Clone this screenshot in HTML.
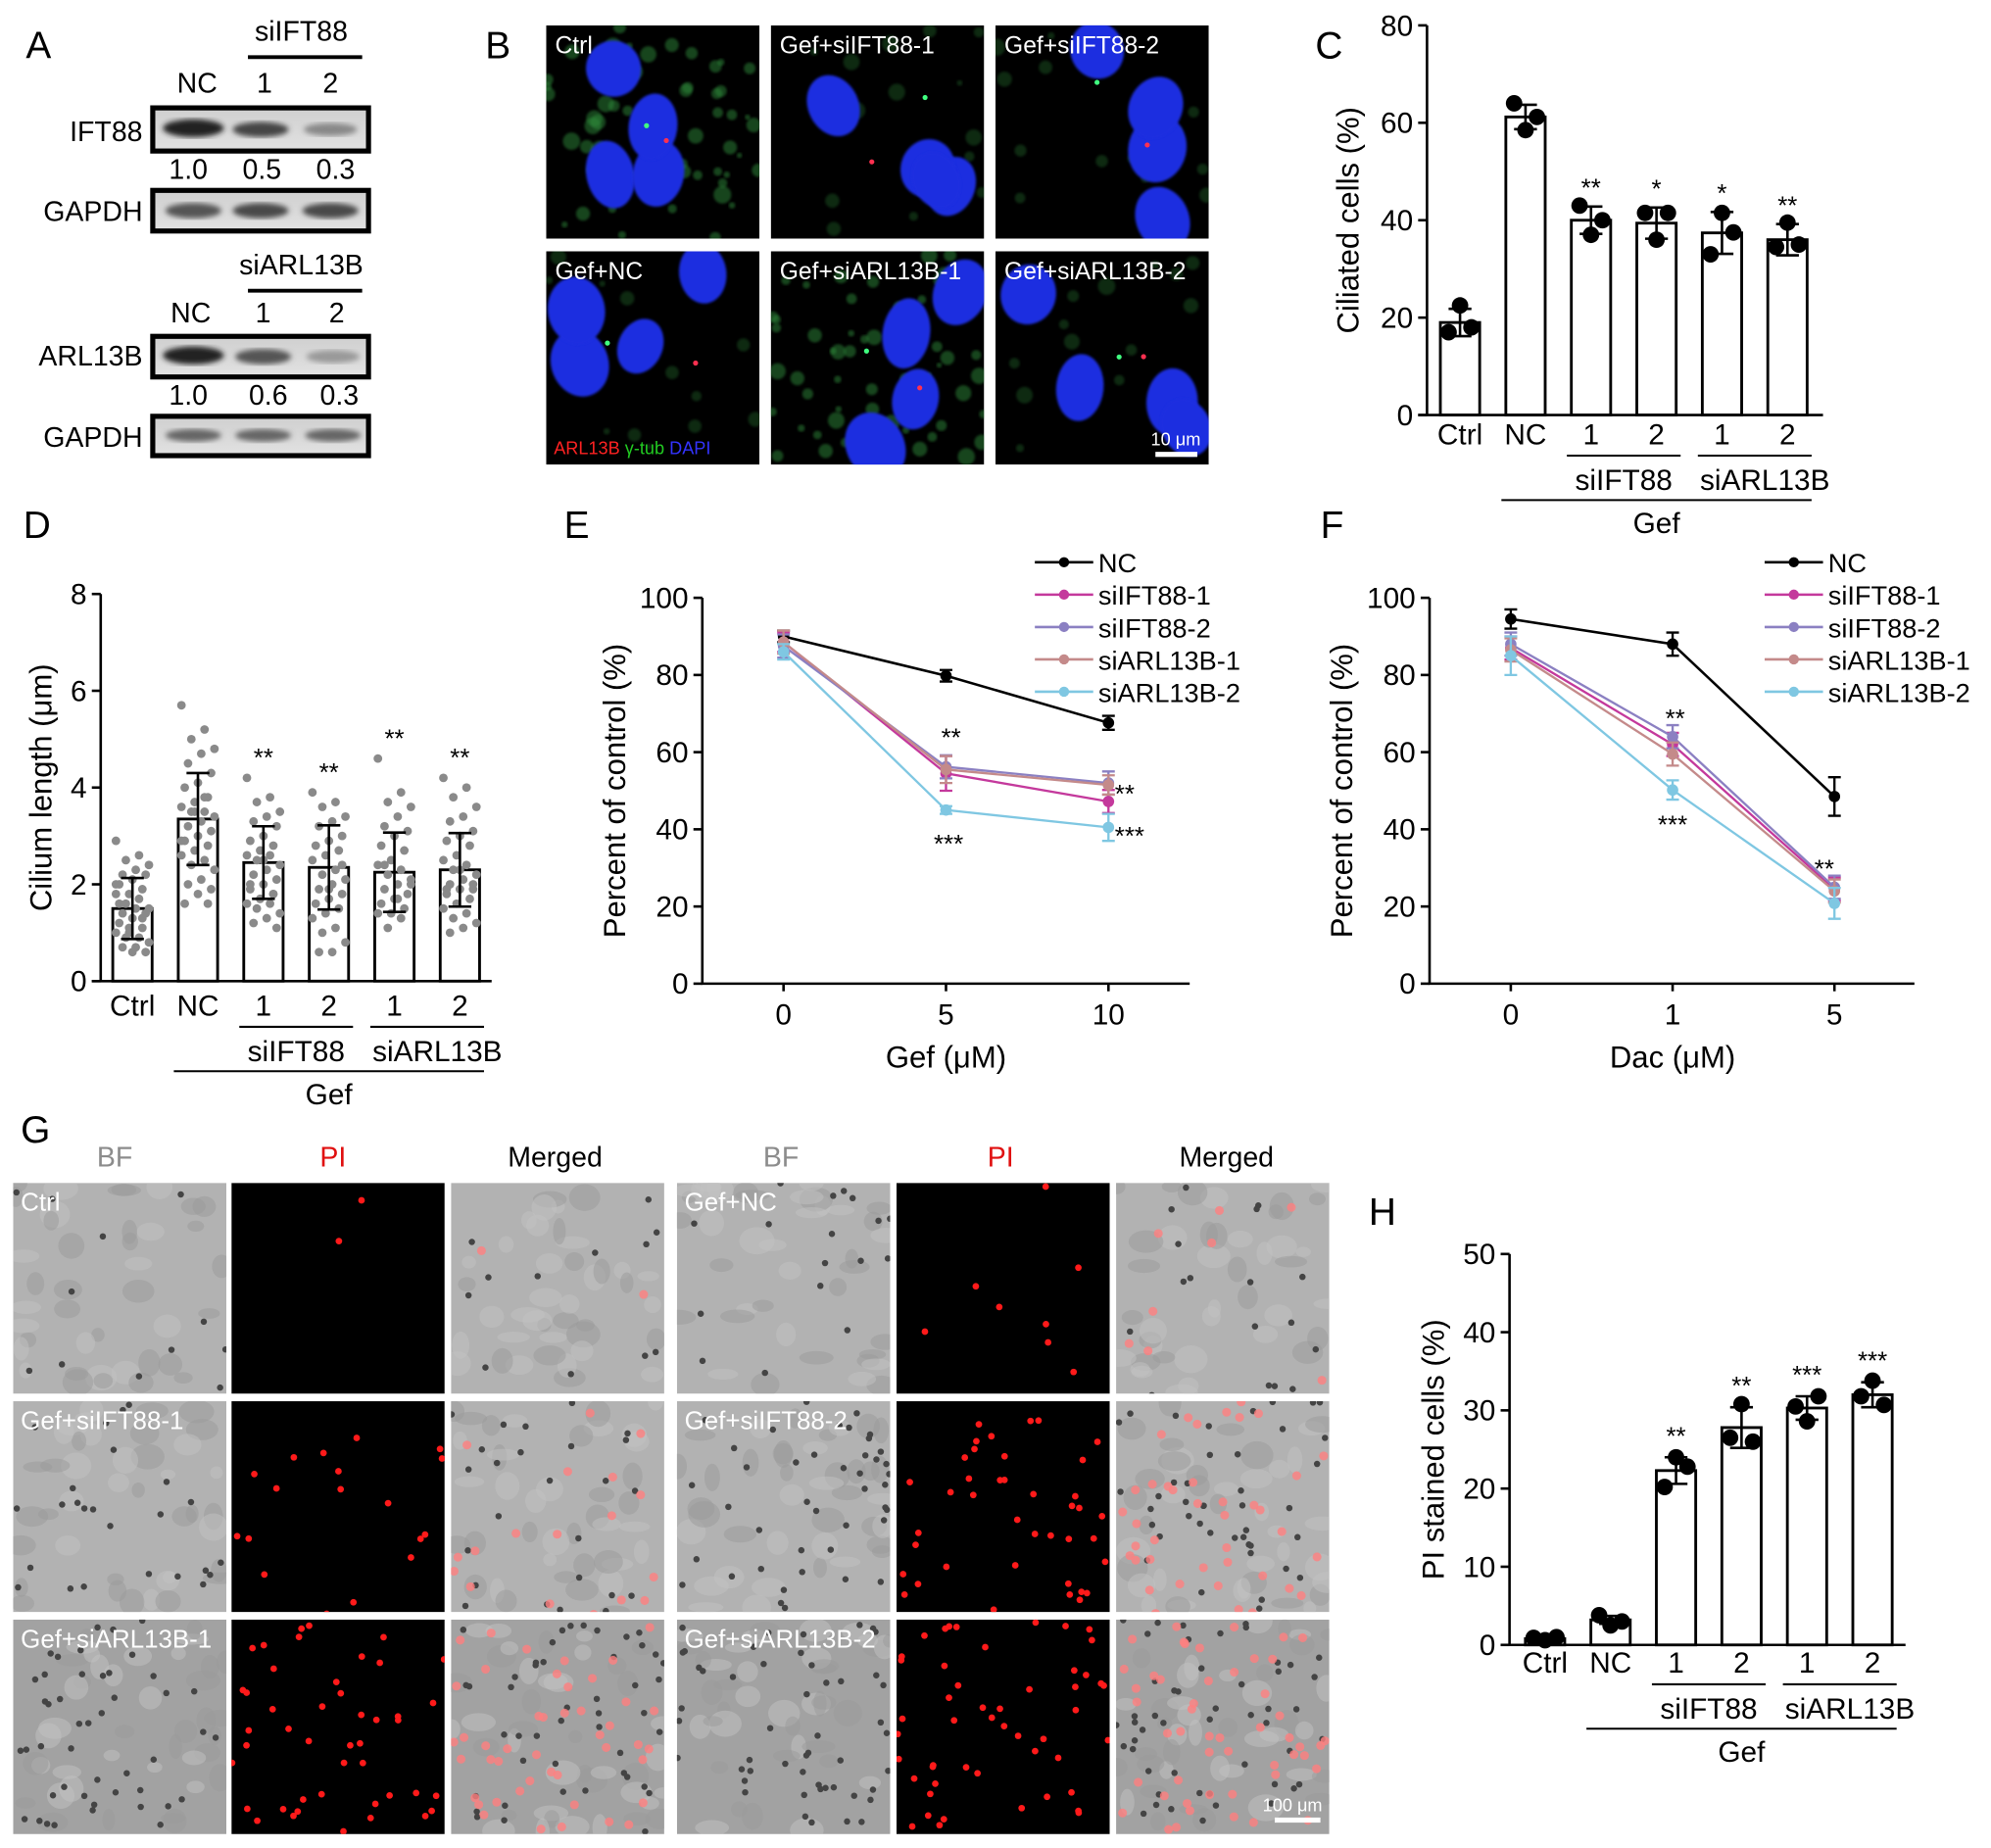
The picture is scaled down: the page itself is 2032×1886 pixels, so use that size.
<!DOCTYPE html>
<html><head><meta charset="utf-8"><style>
html,body{margin:0;padding:0;background:#fff;}
svg{display:block;}
</style></head><body>
<svg id="fig" xmlns="http://www.w3.org/2000/svg" width="2032" height="1886" viewBox="0 0 1568 1456" font-family="Liberation Sans, Arial, sans-serif">
<defs>
<linearGradient id="blotg" x1="0" y1="0" x2="0" y2="1"><stop offset="0" stop-color="#cfcfcf"/><stop offset="1" stop-color="#e2e2e2"/></linearGradient>
<filter id="blur2"><feGaussianBlur stdDeviation="2"/></filter>
<filter id="blur1"><feGaussianBlur stdDeviation="1"/></filter>
<filter id="blur6"><feGaussianBlur stdDeviation="6"/></filter>
</defs>
<rect width="1568" height="1456" fill="#fff"/>
<g font-size="30">
<text x="20" y="46">A</text>
<text x="382" y="46">B</text>
<text x="1036" y="46">C</text>
<text x="18" y="424">D</text>
<text x="444" y="424">E</text>
<text x="1040" y="424">F</text>
<text x="16" y="900">G</text>
<text x="1078" y="965">H</text>
</g>
<g id="panelA" font-size="22">
<text x="237" y="32" text-anchor="middle">siIFT88</text>
<line x1="195" y1="45" x2="285" y2="45" stroke="#000" stroke-width="3"/>
<text x="155" y="73" text-anchor="middle">NC</text><text x="208" y="73" text-anchor="middle">1</text><text x="260" y="73" text-anchor="middle">2</text>
<text x="112" y="111" text-anchor="end">IFT88</text>
<rect x="120" y="85" width="170" height="34" fill="url(#blotg)" stroke="#000" stroke-width="4"/>
<ellipse cx="152" cy="101" rx="24" ry="7" fill="#222" filter="url(#blur2)"/><ellipse cx="205" cy="102" rx="22" ry="6" fill="#444" filter="url(#blur2)"/><ellipse cx="260" cy="102" rx="21" ry="5" fill="#888" filter="url(#blur2)"/>
<text x="148" y="141" text-anchor="middle">1.0</text><text x="206" y="141" text-anchor="middle">0.5</text><text x="264" y="141" text-anchor="middle">0.3</text>
<text x="112" y="174" text-anchor="end">GAPDH</text>
<rect x="120" y="150" width="170" height="32" fill="url(#blotg)" stroke="#000" stroke-width="4"/>
<ellipse cx="152" cy="166" rx="22" ry="6" fill="#555" filter="url(#blur2)"/><ellipse cx="205" cy="166" rx="22" ry="6" fill="#4a4a4a" filter="url(#blur2)"/><ellipse cx="260" cy="166" rx="22" ry="6" fill="#4a4a4a" filter="url(#blur2)"/>
<text x="237" y="216" text-anchor="middle">siARL13B</text>
<line x1="195" y1="229" x2="285" y2="229" stroke="#000" stroke-width="3"/>
<text x="150" y="254" text-anchor="middle">NC</text><text x="207" y="254" text-anchor="middle">1</text><text x="265" y="254" text-anchor="middle">2</text>
<text x="112" y="288" text-anchor="end">ARL13B</text>
<rect x="120" y="265" width="170" height="32" fill="url(#blotg)" stroke="#000" stroke-width="4"/>
<ellipse cx="152" cy="280" rx="24" ry="7" fill="#222" filter="url(#blur2)"/><ellipse cx="207" cy="281" rx="22" ry="6" fill="#555" filter="url(#blur2)"/><ellipse cx="262" cy="281" rx="21" ry="5" fill="#999" filter="url(#blur2)"/>
<text x="148" y="319" text-anchor="middle">1.0</text><text x="211" y="319" text-anchor="middle">0.6</text><text x="267" y="319" text-anchor="middle">0.3</text>
<text x="112" y="352" text-anchor="end">GAPDH</text>
<rect x="120" y="328" width="170" height="31" fill="url(#blotg)" stroke="#000" stroke-width="4"/>
<ellipse cx="152" cy="343" rx="22" ry="5" fill="#666" filter="url(#blur2)"/><ellipse cx="207" cy="343" rx="22" ry="5" fill="#666" filter="url(#blur2)"/><ellipse cx="262" cy="343" rx="22" ry="5" fill="#666" filter="url(#blur2)"/>
</g>
<g id="panelB"></g>
<g id="panelG">
<g font-size="22" text-anchor="middle">
<text x="90" y="919" fill="#8c8c8c">BF</text><text x="262" y="919" fill="#e01010">PI</text><text x="437" y="919">Merged</text>
<text x="615" y="919" fill="#8c8c8c">BF</text><text x="788" y="919" fill="#e01010">PI</text><text x="966" y="919">Merged</text>
</g>
</g>
<g id="charts"></g>
</svg>
<script>
// ---------- Data ----------
const barCats = ["Ctrl","NC","1","2","1","2"];
const cValues = [19, 61.2, 40, 39.4, 37.4, 36];
const cSD = [2.8, 2.5, 2.8, 3.2, 4.3, 3.2];
const cPoints = [[17,22.5,18],[64,58.5,61.2],[43,37,40],[41.5,36,41.5],[33,41.5,37.5],[34.5,39.5,35]];
const cStars = ["","","**","*","*","**"];
const cTicks = [0,20,40,60,80];

const dValues = [1.5, 3.35, 2.45, 2.35, 2.25, 2.3];
const dSD = [0.63, 0.95, 0.75, 0.87, 0.82, 0.76];
const dStars = ["","","**","**","**","**"];
const dTicks = [0,2,4,6,8];
const dDots0 = [2.9,2.6,2.5,2.4,2.3,2.2,2.2,2.1,2.0,1.9,1.8,1.8,1.7,1.6,1.5,1.5,1.4,1.4,1.3,1.2,1.1,1.1,1.0,0.9,0.9,0.8,0.7,0.7,0.6,0.6,1.6,1.3,1.0,2.0];
const dDots1 = [5.7,5.2,5.0,4.8,4.7,4.5,4.3,4.1,4.0,3.8,3.7,3.6,3.5,3.5,3.4,3.3,3.2,3.1,3.0,2.9,2.8,2.7,2.6,2.5,2.4,2.3,2.1,2.0,1.9,1.8,1.6,1.6,3.5,2.9,3.8];
const dDots2 = [4.2,3.8,3.7,3.5,3.4,3.3,3.2,3.0,2.9,2.8,2.7,2.6,2.6,2.5,2.4,2.3,2.2,2.1,2.0,1.9,1.8,1.7,1.6,1.6,1.5,1.4,1.3,1.2,1.1,2.5,2.0,1.8];
const dDots3 = [3.9,3.7,3.6,3.4,3.3,3.2,3.0,2.9,2.8,2.7,2.6,2.5,2.3,2.2,2.1,2.0,1.9,1.8,1.7,1.6,1.5,1.4,1.3,1.1,1.0,0.8,0.6,0.6,2.4,1.9];
const dDots4 = [4.6,3.9,3.7,3.6,3.4,3.2,3.1,3.0,2.8,2.7,2.5,2.4,2.3,2.2,2.1,2.0,1.9,1.8,1.7,1.6,1.5,1.4,1.4,1.3,1.1,2.0,1.7,2.4];
const dDots5 = [4.2,4.0,3.8,3.6,3.4,3.3,3.1,3.0,2.9,2.8,2.6,2.5,2.4,2.3,2.2,2.1,2.0,1.9,1.9,1.8,1.7,1.6,1.5,1.4,1.3,1.2,1.1,1.0,2.0,2.3,1.9];
const dDots = [dDots0,dDots1,dDots2,dDots3,dDots4,dDots5];

const hValues = [0.8, 3.2, 22.3, 27.8, 30.3, 32];
const hSD = [0.3, 0.5, 1.7, 2.6, 1.5, 1.6];
const hPoints = [[0.9,0.6,1.0],[3.8,2.5,3.0],[20.2,24,22.8],[26.5,30.8,26],[30.5,28.6,31.8],[31.8,33.8,30.7]];
const hStars = ["","","**","**","***","***"];
const hTicks = [0,10,20,30,40,50];

const seriesNames = ["NC","siIFT88-1","siIFT88-2","siARL13B-1","siARL13B-2"];
const seriesColors = ["#000000","#c4399c","#8b80c2","#c48a8a","#7fc7e2"];
const eCats = ["0","5","10"];
const eNC = [90, 79.8, 67.6];
const eIFT1 = [88.5, 54.5, 47.2];
const eIFT2 = [87.5, 56.2, 52];
const eARL1 = [88.5, 55.5, 51.5];
const eARL2 = [86, 45, 40.5];
const eErr = [[1.5,1.5,1.8],[2.5,4.5,3],[3,3,3],[3,3.5,2.5],[2,1,3.5]];
const fCats = ["0","1","5"];
const fNC = [94.5, 88, 48.5];
const fIFT1 = [87, 62, 24.5];
const fIFT2 = [88, 64, 25];
const fARL1 = [86.5, 59.5, 24];
const fARL2 = [85, 50.2, 20.8];
const fErr = [[2.5,3,5],[3,3,3],[3,3,3],[3,3,3],[5,2.5,4]];
const lineTicks = [0,20,40,60,80,100];

// ---------- helpers ----------
const NS='http://www.w3.org/2000/svg';
const root=document.getElementById('charts');
function mk(tag, attrs, parent){const e=document.createElementNS(NS,tag);for(const k in attrs)e.setAttribute(k,attrs[k]);(parent||root).appendChild(e);return e;}
function tx(x,y,s,size,anchor,fill,parent){const e=mk('text',{x:x,y:y,'font-size':size,'text-anchor':anchor||'middle',fill:fill||'#000'},parent);e.textContent=s;return e;}

// ---------- Bar chart ----------
function barChart(o){
  const g=mk('g',{});
  
  
  const y=v=>o.y0-(v-0)*(o.y0-o.yTop)/o.vmax;
  const cx=i=>o.c0+i*o.step;
  o.values.forEach((v,i)=>{
    const r=mk('rect',{x:cx(i)-o.bw/2,y:y(v),width:o.bw,height:o.y0-y(v),fill:'#fff',stroke:'#000','stroke-width':2.2},g);
    
    
  });
  if(o.dots){o.dots.forEach((arr,i)=>{arr.forEach((v,j)=>{
    const off=((j*7)%11-5)*2.6;
    const c=mk('circle',{cx:cx(i)+off,cy:y(v),r:3.4,fill:'#8a8a8a'},g);
    
    
  });});}
  if(o.points){o.points.forEach((arr,i)=>{arr.forEach((v,j)=>{
    const c=mk('circle',{cx:cx(i)+(j-1)*9,cy:y(v),r:6.5,fill:'#000'},g);
    
    
  });});}
  o.values.forEach((v,i)=>{
    const s=o.sd[i];const x=cx(i);
    const e=mk('path',{d:`M${x},${y(v-s)}V${y(v+s)}M${x-9},${y(v+s)}H${x+9}M${x-9},${y(v-s)}H${x+9}`,stroke:'#000','stroke-width':2,fill:'none'},g);
    
    
    if(o.stars[i]){
      let top=v+s;
      if(o.dots) top=Math.max(top,Math.max.apply(null,o.dots[i]));
      const t=tx(x,y(top)-o.starGap,o.stars[i],20,'middle','#000',g);
      
      }
  });
  const ax=mk('path',{d:`M${o.ax},${o.yTop}V${o.y0}M${o.ax-7},${o.y0}H${o.axEnd}`,stroke:'#000','stroke-width':2,fill:'none'},g);
  
  
  o.ticks.forEach(t=>{
    mk('line',{x1:o.ax-7,x2:o.ax,y1:y(t),y2:y(t),stroke:'#000','stroke-width':2},g);
    const l=tx(o.ax-11,y(t)+8,String(t),23,'end','#000',g);
    
    
  });
  const yt=tx(0,0,o.ytitle,24,'middle','#000',g);
  yt.setAttribute('transform',`translate(${o.ytx},${(o.y0+o.yTop)/2}) rotate(-90)`);
  
  
  barCats.forEach((c,i)=>{const l=tx(cx(i),o.labY,c,23,'middle','#000',g);
    
    });
  const gl=(a,b,yy)=>mk('line',{x1:cx(a)-19,x2:cx(b)+19,y1:yy,y2:yy,stroke:'#000','stroke-width':1.6},g);
  gl(2,3,o.labY+9);gl(4,5,o.labY+9);gl(1,5,o.labY+44);
  const s1=tx((cx(2)+cx(3))/2,o.labY+36,'siIFT88',23,'middle','#000',g);
  
  
  const s2=tx((cx(4)+cx(5))/2+8,o.labY+36,'siARL13B',23,'middle','#000',g);
  
  
  const s3=tx((cx(1)+cx(5))/2,o.labY+70,'Gef',23,'middle','#000',g);
  
  
}
barChart({name:'chart-c-ciliated-cells',values:cValues,sd:cSD,points:cPoints,stars:cStars,ticks:cTicks,vmax:80,
  y0:327,yTop:20,c0:1150,step:51.6,bw:31,ax:1124,axEnd:1436,ytitle:'Ciliated cells (%)',ytx:1070,labY:350,starGap:8});
barChart({name:'chart-d-cilium-length',values:dValues,sd:dSD,dots:dDots,stars:dStars,ticks:dTicks,vmax:8,
  y0:773,yTop:468,c0:104,step:51.6,bw:31,ax:79,axEnd:387,ytitle:'Cilium length (\u03bcm)',ytx:40,labY:800,starGap:9});
barChart({name:'chart-h-pi-stained',values:hValues,sd:hSD,points:hPoints,stars:hStars,ticks:hTicks,vmax:50,
  y0:1296,yTop:988,c0:1217,step:51.6,bw:31,ax:1189,axEnd:1501,ytitle:'PI stained cells (%)',ytx:1137,labY:1318,starGap:10});

// ---------- Line charts ----------
function lineChart(o){
  const g=mk('g',{});
  
  
  const y=v=>o.y0-v*(o.y0-o.yTop)/100;
  const x=i=>o.x0+i*o.step;
  o.series.forEach((arr,s)=>{
    const col=seriesColors[s];
    const p=mk('polyline',{points:arr.map((v,i)=>x(i)+','+y(v)).join(' '),fill:'none',stroke:col,'stroke-width':s===0?2:1.8},g);
    
    
    arr.forEach((v,i)=>{
      const e=o.err[s][i];
      const eb=mk('path',{d:`M${x(i)},${y(v-e)}V${y(v+e)}M${x(i)-5},${y(v+e)}H${x(i)+5}M${x(i)-5},${y(v-e)}H${x(i)+5}`,stroke:col,'stroke-width':1.8,fill:'none'},g);
      
      
      const c=mk('circle',{cx:x(i),cy:y(v),r:4.5,fill:col},g);
      
      
    });
  });
  const ax=mk('path',{d:`M${o.ax},${o.yTop}V${o.y0}H${o.axEnd}`,stroke:'#000','stroke-width':2,fill:'none'},g);
  
  
  lineTicks.forEach(t=>{
    mk('line',{x1:o.ax-7,x2:o.ax,y1:y(t),y2:y(t),stroke:'#000','stroke-width':2},g);
    const l=tx(o.ax-11,y(t)+8,String(t),23,'end','#000',g);
    
    
  });
  o.cats.forEach((c,i)=>{
    mk('line',{x1:x(i),x2:x(i),y1:o.y0,y2:o.y0+6,stroke:'#000','stroke-width':2},g);
    const l=tx(x(i),o.y0+32,c,23,'middle','#000',g);
    
    
  });
  const xt=tx(x(1),o.y0+66,o.xtitle,24,'middle','#000',g);
  
  
  const yt=tx(0,0,'Percent of control (%)',24,'middle','#000',g);
  yt.setAttribute('transform',`translate(${o.ax-61},${(o.y0+o.yTop)/2}) rotate(-90)`);
  
  
  seriesNames.forEach((n,s)=>{
    const ly=443+s*25.5;
    const ll=mk('line',{x1:o.legX,x2:o.legX+46,y1:ly,y2:ly,stroke:seriesColors[s],'stroke-width':2},g);
    
    
    mk('circle',{cx:o.legX+23,cy:ly,r:4,fill:seriesColors[s]},g);
    const lt=tx(o.legX+50,ly+8,n,21,'start','#000',g);
    
    
  });
  o.stars.forEach(st=>{
    const t=tx(x(st[0])+st[3],y(st[1]),st[2],20,st[4],'#000',g);
    
    
  });
}
lineChart({name:'chart-e-gef',series:[eNC,eIFT1,eIFT2,eARL1,eARL2],err:eErr,cats:eCats,x0:617,step:128,y0:775,yTop:471,ax:553,axEnd:937,
  xtitle:'Gef (\u03bcM)',legX:815,stars:[[1,61.5,'**',4,'middle'],[1,34,'***',2,'middle'],[2,47,'**',5,'start'],[2,36,'***',5,'start']]});
lineChart({name:'chart-f-dac',series:[fNC,fIFT1,fIFT2,fARL1,fARL2],err:fErr,cats:fCats,x0:1190,step:127.5,y0:775,yTop:471,ax:1126,axEnd:1508,
  xtitle:'Dac (\u03bcM)',legX:1390,stars:[[1,66.5,'**',2,'middle'],[1,39,'***',0,'middle'],[2,27.5,'**',-8,'middle']]});

// ---------- Microscopy images (decorative) ----------
let seed=12345;function rnd(){seed=(seed*1103515245+12345)%2147483648;return seed/2147483648;}
const B=document.getElementById('panelB');
const bCols=[430,607,784], bRows=[20,198];
const bLabels=[["Ctrl","Gef+siIFT88-1","Gef+siIFT88-2"],["Gef+NC","Gef+siARL13B-1","Gef+siARL13B-2"]];
bRows.forEach((ry,r)=>bCols.forEach((rx,c)=>{
  const cp=mk('clipPath',{id:'cb'+r+c},B);mk('rect',{x:rx,y:ry,width:168,height:168},cp);
  const gg=mk('g',{'clip-path':'url(#cb'+r+c+')'},B);
  
  
  mk('rect',{x:rx,y:ry,width:168,height:168,fill:'#000'},gg);
  const heavy=(r===0&&c===0)||(r===1&&c===1);
  const ng=heavy?60:15;
  for(let k=0;k<ng;k++)mk('circle',{cx:rx+rnd()*168,cy:ry+rnd()*168,r:2+rnd()*5,fill:'#2f8a3a',opacity:heavy?0.5:0.3,filter:'url(#blur1)'},gg);
  for(let k=0;k<4;k++){const ex=rx+15+rnd()*140,ey=ry+15+rnd()*140;
    mk('ellipse',{cx:ex,cy:ey,rx:17+rnd()*6,ry:22+rnd()*6,fill:'#1c2ee0',transform:`rotate(${rnd()*60-30} ${ex} ${ey})`,filter:'url(#blur1)'},gg);}
  mk('circle',{cx:rx+60+rnd()*60,cy:ry+70+rnd()*60,r:2,fill:'#ff3050'},gg);
  mk('circle',{cx:rx+40+rnd()*90,cy:ry+40+rnd()*90,r:2,fill:'#40ff80'},gg);
  const t=tx(rx+7,ry+22,bLabels[r][c],19,'start','#fff',B);
  
  
}));
const lg=mk('text',{x:436,y:358,'font-size':14,fill:'#f22'},B);lg.textContent='ARL13B ';
const lg2=mk('tspan',{fill:'#2c2'},lg);lg2.textContent='\u03b3-tub ';
const lg3=mk('tspan',{fill:'#33f'},lg);lg3.textContent='DAPI';


const sb=tx(926,351,'10 \u03bcm',14,'middle','#fff',B);


mk('rect',{x:910,y:356,width:33,height:4,fill:'#fff'},B);

const G=document.getElementById('panelG');
const gCols=[10,182,355,533,706,879], gRows=[932,1104,1276];
const gLabels=[["Ctrl","Gef+NC"],["Gef+siIFT88-1","Gef+siIFT88-2"],["Gef+siARL13B-1","Gef+siARL13B-2"]];
const gDens=[[2,8],[18,40],[45,50]];
gRows.forEach((ry,r)=>gCols.forEach((rx,c)=>{
  const kind=c%3, half=c<3?0:1;
  const cp=mk('clipPath',{id:'cg'+r+c},G);mk('rect',{x:rx,y:ry,width:168,height:r===2?169:166},cp);
  const gg=mk('g',{'clip-path':'url(#cg'+r+c+')'},G);
  
  
  const base=r===2?'#a2a2a2':'#b2b2b2';
  mk('rect',{x:rx,y:ry,width:168,height:170,fill:kind===1?'#000':base},gg);
  if(kind!==1){for(let k=0;k<40;k++)mk('ellipse',{cx:rx+rnd()*168,cy:ry+rnd()*168,rx:5+rnd()*9,ry:4+rnd()*7,fill:rnd()>0.5?'#c2c2c2':'#9a9a9a',opacity:0.5},gg);
    const nd=10+gDens[r][half]*0.8;
    for(let k=0;k<nd;k++)mk('circle',{cx:rx+rnd()*168,cy:ry+rnd()*168,r:2.5,fill:'#444'},gg);}
  if(kind!==0){const nd=gDens[r][half];
    for(let k=0;k<nd;k++)mk('circle',{cx:rx+rnd()*168,cy:ry+rnd()*168,r:kind===1?2.6:3.5,fill:kind===1?'#ff1a1a':'#ff8080',opacity:kind===1?1:0.8},gg);}
  if(kind===0){const t=tx(rx+6,ry+22,gLabels[r][half],20,'start','#fff',G);
    
    }
}));
const sb2=tx(1018,1427,'100 \u03bcm',14,'middle','#fff',G);


mk('rect',{x:1004,y:1432,width:36,height:4,fill:'#fff'},G);
</script>
</body></html>
